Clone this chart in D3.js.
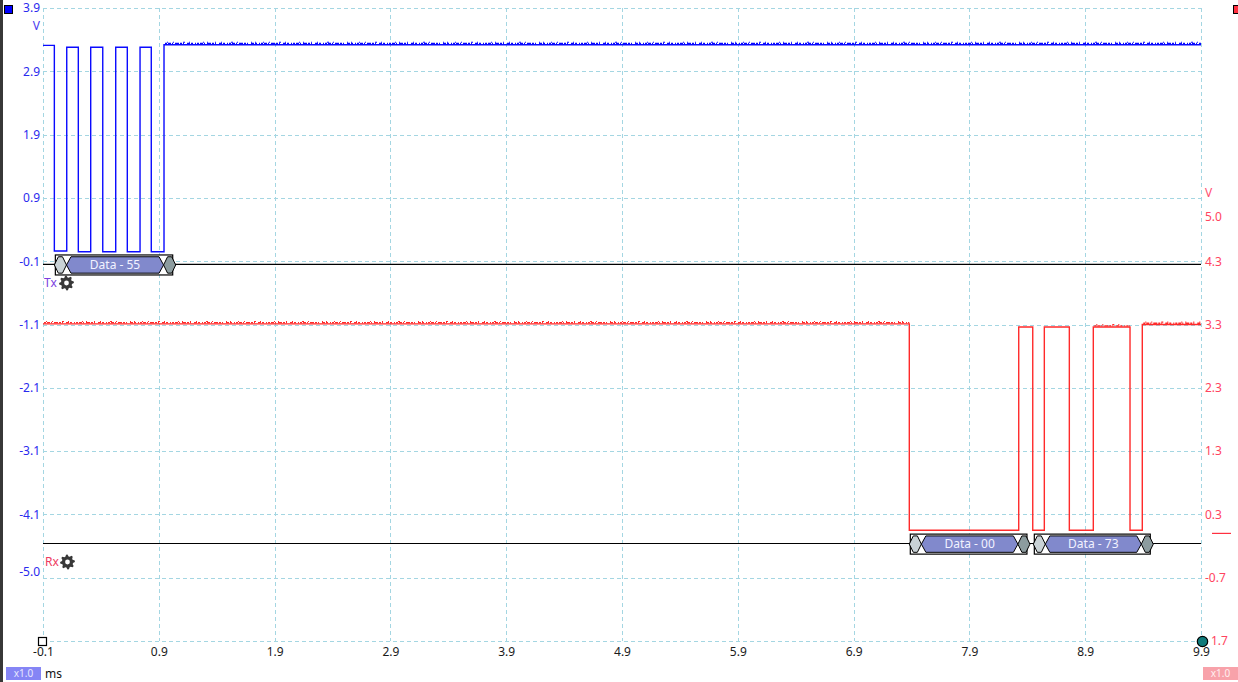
<!DOCTYPE html>
<html><head><meta charset="utf-8">
<script src="https://cdn.jsdelivr.net/npm/d3@7"></script>
<style>
body{margin:0;background:#fff;overflow:hidden}
svg{display:block}
text{font-family:"Noto Sans","Open Sans",sans-serif}
</style>
</head><body>
<svg id="c" width="1238" height="682"></svg>
<script>
// ---------- data ----------
const timeTicks = [-0.1, 0.9, 1.9, 2.9, 3.9, 4.9, 5.9, 6.9, 7.9, 8.9, 9.9];
const timeTickLabels = ["-0.1","0.9","1.9","2.9","3.9","4.9","5.9","6.9","7.9","8.9","9.9"];
const leftGridValues = [3.9, 2.9, 1.9, 0.9, -0.1, -1.1, -2.1, -3.1, -4.1, -5.1, -6.1];
const leftTickValues = [3.9, 2.9, 1.9, 0.9, -0.1, -1.1, -2.1, -3.1, -4.1, -5.0];
const leftTickLabels = ["3.9","2.9","1.9","0.9","-0.1","-1.1","-2.1","-3.1","-4.1","-5.0"];
const rightTickValues = [5.0, 4.3, 3.3, 2.3, 1.3, 0.3, -0.7];
const rightTickLabels = ["5.0","4.3","3.3","2.3","1.3","0.3","-0.7"];
const rightCursorValue = -1.7;
const rightCursorLabel = "1.7";

// Tx channel (left axis, volts) – transition times (ms) and levels after each transition
const txTimes  = [-0.1, -0.002, 0.105, 0.205, 0.312, 0.416, 0.528, 0.628, 0.738, 0.835, 0.945, 9.9];
const txLevels = [3.31, 0.06, 3.28, 0.05, 3.28, 0.05, 3.28, 0.05, 3.28, 0.05, 3.32, 3.32];
const txBaseline = -0.15;

// Rx channel (right axis, volts)
const rxTimes  = [-0.1, 7.381, 8.326, 8.447, 8.547, 8.763, 8.970, 9.287, 9.393, 9.9];
const rxLevels = [3.31, 0.05, 3.26, 0.05, 3.26, 0.05, 3.26, 0.05, 3.30, 3.30];
const rxBaseline = -0.16;
const rxMarker = 0.0;

// decoded UART frames
const frameChannel = ["Tx", "Rx", "Rx"];
const frameStart   = [-0.002, 7.381, 8.452];
const frameEnd     = [1.046, 8.423, 9.488];
const frameLabel   = ["Data - 55", "Data - 00", "Data - 73"];

// ---------- scales ----------
const svg = d3.select("#c");
const W = 1238, H = 682;
const x  = d3.scaleLinear().domain([-0.1, 9.9]).range([43, 1201]);
const yL = d3.scaleLinear().domain([3.9, -6.1]).range([8, 641]);
const yR = d3.scaleLinear().domain([8.3, -1.7]).range([8, 641]);

// left dark bar
svg.append("rect").attr("x",0).attr("y",0).attr("width",3).attr("height",H).attr("fill","#383838");

// ---------- grid ----------
const grid = svg.append("g").attr("stroke","#a4d6e2").attr("stroke-width",1).attr("stroke-dasharray","4,3");
grid.selectAll("line.v").data(timeTicks).join("line")
  .attr("x1",d=>Math.round(x(d))+0.5).attr("x2",d=>Math.round(x(d))+0.5)
  .attr("y1",yL(3.9)).attr("y2",yL(-6.1));
grid.selectAll("line.h").data(leftGridValues).join("line")
  .attr("x1",x(-0.1)).attr("x2",x(9.9))
  .attr("y1",d=>Math.round(yL(d))+0.5).attr("y2",d=>Math.round(yL(d))+0.5);

// ---------- axes labels ----------
const axL = d3.axisLeft(yL).tickValues(leftTickValues).tickFormat((d,i)=>leftTickLabels[i]).tickSize(0).tickPadding(3);
const gL = svg.append("g").attr("transform",`translate(${x(-0.1)},0)`).call(axL);
gL.select(".domain").remove();
gL.selectAll("text").attr("fill","#2a2aee").style("font-size","12px").attr("font-family","Noto Sans");

const axR = d3.axisRight(yR).tickValues(rightTickValues).tickFormat((d,i)=>rightTickLabels[i]).tickSize(0).tickPadding(4);
const gR = svg.append("g").attr("transform",`translate(${x(9.9)},0)`).call(axR);
gR.select(".domain").remove();
gR.selectAll("text").attr("fill","#ff4460").style("font-size","12px").attr("font-family","Noto Sans");

const axB = d3.axisBottom(x).tickValues(timeTicks).tickFormat((d,i)=>timeTickLabels[i]).tickSize(0).tickPadding(6);
const gB = svg.append("g").attr("transform",`translate(0,${yL(-6.1)})`).call(axB);
gB.select(".domain").remove();
gB.selectAll("text").attr("fill","#1a1a1a").style("font-size","12px").attr("font-family","Noto Sans");

svg.append("text").attr("x",40).attr("y",30).attr("text-anchor","end").attr("fill","#4a3af0").style("font-size","12px").text("V");
svg.append("text").attr("x",1205).attr("y",197).attr("fill","#ff5070").style("font-size","12px").text("V");

// ---------- baselines ----------
svg.append("line").attr("x1",x(-0.1)).attr("x2",x(9.9)).attr("y1",yL(txBaseline)).attr("y2",yL(txBaseline)).attr("stroke","#000").attr("stroke-width",1.2);
svg.append("line").attr("x1",x(-0.1)).attr("x2",x(9.9)).attr("y1",yR(rxBaseline)).attr("y2",yR(rxBaseline)).attr("stroke","#000").attr("stroke-width",1.2);
svg.append("line").attr("x1",1212).attr("x2",1231).attr("y1",yR(rxMarker)).attr("y2",yR(rxMarker)).attr("stroke","#ff3040").attr("stroke-width",1.2);

// ---------- signals ----------
function drawSignal(times, levels, y, color){
  const pts = times.map((t,i)=>[t, levels[i]]);
  const line = d3.line().x(d=>x(d[0])).y(d=>y(d[1])).curve(d3.curveStepAfter);
  svg.append("path").attr("d",line(pts)).attr("fill","none").attr("stroke",color).attr("stroke-width",1.4);
  // noise texture along long high segments
  for(let i=0;i<pts.length-1;i++){
    if(pts[i][1] > 1.5 && pts[i+1][0]-pts[i][0] > 0.3){
      const yy = y(pts[i][1]);
      svg.append("line").attr("x1",x(pts[i][0])+1).attr("x2",x(pts[i+1][0]))
        .attr("y1",yy-1.2).attr("y2",yy-1.2)
        .attr("stroke",color).attr("stroke-width",1.4)
        .attr("stroke-dasharray","2,1,3,1,1,2,4,1,2,1,1,3,3,1,2,2,1,1");
      svg.append("line").attr("x1",x(pts[i][0])+3).attr("x2",x(pts[i+1][0]))
        .attr("y1",yy-2.4).attr("y2",yy-2.4)
        .attr("stroke",color).attr("stroke-width",1.1)
        .attr("stroke-dasharray","1,5,1,9,2,4,1,13,1,3,1,7");
    }
  }
}
drawSignal(txTimes, txLevels, yL, "#0a0aff");
drawSignal(rxTimes, rxLevels, yR, "#ff2a2a");

// ---------- decoded frames ----------
function hex(xa, xb, c, h, p){
  return `M${xa},${c} L${xa+p},${c-h} L${xb-p},${c-h} L${xb},${c} L${xb-p},${c+h} L${xa+p},${c+h} Z`;
}
frameLabel.forEach((lab,i)=>{
  const yb = frameChannel[i]==="Tx" ? yL(txBaseline) : yR(rxBaseline);
  const c = yb + 0.6;
  const xa = x(frameStart[i]), xb = x(frameEnd[i]);
  const b = (xb-xa)/10;
  const g = svg.append("g");
  g.append("rect").attr("x",xa+1).attr("y",c-10).attr("width",(xb-3)-(xa+1)).attr("height",20)
    .attr("fill","#fff").attr("stroke","#000").attr("stroke-width",1.2);
  g.append("path").attr("d",hex(xa, xa+b, c, 8.2, 4)).attr("fill","#c9d2d6").attr("stroke","#000").attr("stroke-width",1);
  g.append("path").attr("d",hex(xa+b, xb-b, c, 8.2, 4.5)).attr("fill","#8189cc").attr("stroke","#000").attr("stroke-width",1);
  g.append("path").attr("d",hex(xb-b, xb, c, 8.2, 4)).attr("fill","#8c9c9f").attr("stroke","#000").attr("stroke-width",1);
  g.append("text").attr("x",(xa+xb)/2).attr("y",c).attr("dy","0.36em").attr("text-anchor","middle")
    .attr("fill","#f2f2ff").style("font-size","12px").text(lab);
});

// ---------- channel labels + gear ----------
function gear(cx, cy){
  const teeth = 8, ro = 7.4, ri = 5.6;
  let d = "";
  for(let k=0;k<teeth*4;k++){
    const a = (k/(teeth*4))*2*Math.PI - Math.PI/2;
    const r = (Math.floor((k+1)/2)%2===0) ? ro : ri;
    d += (k===0?"M":"L") + (cx+r*Math.cos(a)).toFixed(2)+","+(cy+r*Math.sin(a)).toFixed(2);
  }
  d += "Z";
  const rh = 2.4;
  d += `M${cx+rh},${cy} A${rh},${rh} 0 1,0 ${cx-rh},${cy} A${rh},${rh} 0 1,0 ${cx+rh},${cy}Z`;
  svg.append("path").attr("d",d).attr("fill","#383838").attr("fill-rule","evenodd");
}
svg.append("text").attr("x",44).attr("y",283).attr("dy","0.36em").attr("fill","#7a3ee0").style("font-size","12px").text("Tx");
gear(66.5, 283);
svg.append("text").attr("x",45).attr("y",562).attr("dy","0.36em").attr("fill","#ee3a60").style("font-size","12px").text("Rx");
gear(67.5, 562);

// ---------- corner widgets ----------
svg.append("rect").attr("x",4.5).attr("y",5.5).attr("width",8).attr("height",8).attr("fill","#0000ff").attr("stroke","#000");
svg.append("rect").attr("x",1233.5).attr("y",5.5).attr("width",8).attr("height",8).attr("fill","#ff3040").attr("stroke","#000");
svg.append("rect").attr("x",38.5).attr("y",637.5).attr("width",8).attr("height",8).attr("fill","#fff").attr("stroke","#000").attr("stroke-width",1.2);
svg.append("circle").attr("cx",1202.5).attr("cy",641.5).attr("r",5.2).attr("fill","#0f7a7a").attr("stroke","#000").attr("stroke-width",1.2);
svg.append("text").attr("x",1211).attr("y",yR(rightCursorValue)).attr("dy","0.36em").attr("fill","#ff4460").style("font-size","12px").text(rightCursorLabel);

svg.append("rect").attr("x",6).attr("y",667).attr("width",35).attr("height",13).attr("fill","#8585f5");
svg.append("text").attr("x",23.5).attr("y",673.5).attr("dy","0.36em").attr("text-anchor","middle").attr("fill","#e8e8ff").style("font-size","10px").text("x1.0");
svg.append("text").attr("x",45).attr("y",674).attr("dy","0.36em").attr("fill","#111").style("font-size","12px").text("ms");
svg.append("rect").attr("x",1203).attr("y",667).attr("width",35).attr("height",13).attr("fill","#f8a2aa");
svg.append("text").attr("x",1220.5).attr("y",673.5).attr("dy","0.36em").attr("text-anchor","middle").attr("fill","#fff0f0").style("font-size","10px").text("x1.0");
</script>
</body></html>
